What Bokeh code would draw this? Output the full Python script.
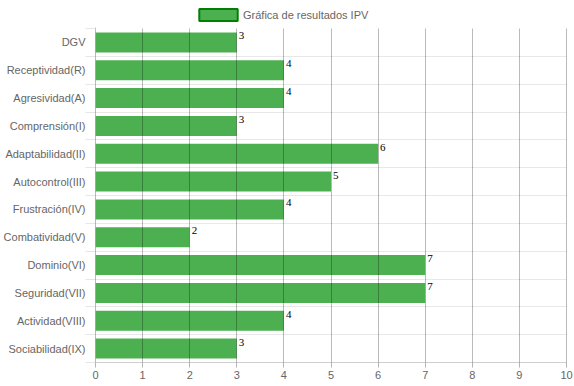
from bokeh.plotting import figure
from bokeh.layouts import column
from bokeh.models import Range1d, FixedTicker, ColumnDataSource, Legend, LegendItem
from bokeh.core.properties import value
from bokeh.embed import file_html
from bokeh.resources import INLINE

categories = ["DGV", "Receptividad(R)", "Agresividad(A)", "Comprensión(I)",
              "Adaptabilidad(II)", "Autocontrol(III)", "Frustración(IV)",
              "Combatividad(V)", "Dominio(VI)", "Seguridad(VII)",
              "Actividad(VIII)", "Sociabilidad(IX)"]
values = [3, 4, 4, 3, 6, 5, 4, 2, 7, 7, 4, 3]
x_ticks = [0, 1, 2, 3, 4, 5, 6, 7, 8, 9, 10]
series_name = "Gráfica de resultados IPV"

n = len(categories)
ys = [i + 0.5 for i in range(n)]
src = ColumnDataSource(dict(y=ys, v=values, lbl=[str(v) for v in values]))

FONT = "Liberation Sans"
GREEN = "#4CAF50"
W = 574

# ---- legend strip ----
top = figure(width=W, height=28, output_backend="svg", toolbar_location=None,
             x_range=Range1d(0, 1), y_range=Range1d(0, 1),
             min_border=0, outline_line_color=None)
top.axis.visible = False
top.grid.visible = False
# a swatch renderer kept outside the visible range; only its legend entry shows
swatch = top.hbar(y=[-10], right=[-5], left=-6, height=0.5, fill_color=GREEN,
                  line_color="#008000", line_width=2)
legend = Legend(items=[LegendItem(label=series_name, renderers=[swatch])],
                location=(99, 6), orientation="horizontal",
                glyph_width=48, glyph_height=15, label_height=15,
                label_standoff=1, padding=0, margin=0, spacing=0,
                border_line_color=None, background_fill_alpha=0,
                label_text_font=FONT, label_text_font_size="11px",
                label_text_color="#666666")
top.add_layout(legend)

# ---- main chart ----
p = figure(width=W, height=358, output_backend="svg", toolbar_location=None,
           x_range=Range1d(-1e-6, 10 + 1e-6), y_range=Range1d(n, 0),
           min_border_left=95, min_border_right=8, min_border_top=0,
           min_border_bottom=24, outline_line_color=None)

p.hbar(y="y", right="v", left=0, height=0.72, source=src,
       fill_color=GREEN, line_color=None)

p.text(x="v", y="y", text="lbl", source=src, x_offset=2, y_offset=-10,
       text_baseline="top", text_align="left", text_color="black",
       text_font=value("Liberation Serif"), text_font_size="11px")

# x axis
p.xaxis.ticker = FixedTicker(ticks=x_ticks)
p.xaxis.axis_line_color = "#cfcfcf"
p.xaxis.major_tick_line_color = "#b5b5b5"
p.xaxis.major_tick_out = 5
p.xaxis.major_tick_in = 0
p.xaxis.minor_tick_line_color = None
p.xaxis.major_label_text_font = FONT
p.xaxis.major_label_text_font_size = "11px"
p.xaxis.major_label_text_color = "#666666"
p.xaxis.major_label_standoff = 3

# y axis
p.yaxis.ticker = FixedTicker(ticks=ys, minor_ticks=list(range(n + 1)))
p.yaxis.major_label_overrides = {y: c for y, c in zip(ys, categories)}
p.yaxis.axis_line_color = None
p.yaxis.major_tick_line_color = None
p.yaxis.major_tick_out = 0
p.yaxis.major_tick_in = 0
p.yaxis.minor_tick_out = 10
p.yaxis.minor_tick_in = 0
p.yaxis.minor_tick_line_color = "#e6e6e6"
p.yaxis.major_label_text_font = FONT
p.yaxis.major_label_text_font_size = "11px"
p.yaxis.major_label_text_color = "#666666"
p.yaxis.major_label_standoff = 0

# grids
p.xgrid.ticker = FixedTicker(ticks=x_ticks)
p.xgrid.grid_line_color = "black"
p.xgrid.grid_line_alpha = 0.27
p.xgrid.level = "overlay"
p.ygrid.ticker = FixedTicker(ticks=list(range(n + 1)))
p.ygrid.grid_line_color = "#e8e8e8"

layout = column(top, p, spacing=0)
open("out.html", "w").write(file_html(layout, INLINE))
